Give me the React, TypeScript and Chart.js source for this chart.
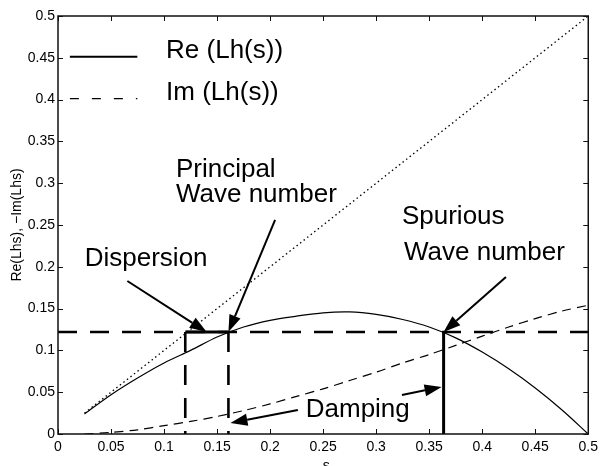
import { useEffect, useRef } from 'react';
import { Chart, registerables } from 'chart.js';

Chart.register(...registerables);

// ---- data ----
const sValues = [0.025, 0.05, 0.075, 0.1, 0.125, 0.15, 0.175, 0.2, 0.225, 0.25, 0.275, 0.3, 0.325, 0.35, 0.375, 0.4, 0.425, 0.45, 0.475, 0.5];
const reValues = [0.024, 0.047, 0.067, 0.085, 0.1, 0.116, 0.128, 0.136, 0.141, 0.145, 0.146, 0.143, 0.137, 0.128, 0.115, 0.098, 0.078, 0.055, 0.029, 0.0];
const imValues = [0.0, 0.002, 0.005, 0.01, 0.015, 0.021, 0.028, 0.036, 0.045, 0.054, 0.064, 0.074, 0.085, 0.095, 0.106, 0.117, 0.128, 0.138, 0.147, 0.154];
const diagonalS = [0.025, 0.5];
const refLevel = 0.122;
const dispersionBounds = [0.12, 0.1607];
const spuriousS = 0.3636;
const xTickLabels = ['0', '0.05', '0.1', '0.15', '0.2', '0.25', '0.3', '0.35', '0.4', '0.45', '0.5'];
const yTickLabels = ['0', '0.05', '0.1', '0.15', '0.2', '0.25', '0.3', '0.35', '0.4', '0.45', '0.5'];
const legendLabels = ['Re (Lh(s))', 'Im (Lh(s))'];
const yAxisTitle = 'Re(Lhs), −Im(Lhs)';
const xAxisTitle = 's';

// annotations (data coordinates)
const textNotes = [
  { text: 'Dispersion', s: 0.0252, y: 0.201 },
  { text: 'Principal', s: 0.1112, y: 0.3074 },
  { text: 'Wave number', s: 0.1112, y: 0.2775 },
  { text: 'Spurious', s: 0.3243, y: 0.2512 },
  { text: 'Wave number', s: 0.3262, y: 0.2081 },
  { text: 'Damping', s: 0.2336, y: 0.0203 },
];
const arrowNotes = [
  { from: [0.0654, 0.183], to: [0.1402, 0.122] },
  { from: [0.2047, 0.256], to: [0.1607, 0.122] },
  { from: [0.4224, 0.1878], to: [0.3636, 0.122] },
  { from: [0.3243, 0.0467], to: [0.3617, 0.0562] },
  { from: [0.2262, 0.0287], to: [0.1626, 0.0132] },
];

const FONT = '"Liberation Sans", Arial, Helvetica, sans-serif';

const overlay = {
  id: 'overlay',
  afterDraw(chart: any) {
    const { ctx, chartArea: a, scales } = chart;
    const xs = scales.x;
    const ys = scales.y;
    const X = (v: number) => xs.getPixelForValue(v);
    const Y = (v: number) => ys.getPixelForValue(v);
    ctx.save();
    // frame
    ctx.strokeStyle = '#111';
    ctx.lineWidth = 1.5;
    ctx.setLineDash([]);
    ctx.strokeRect(a.left, a.top, a.right - a.left, a.bottom - a.top);
    // inward ticks
    ctx.lineWidth = 1;
    ctx.beginPath();
    xs.ticks.forEach((t: any) => {
      const px = Math.round(X(t.value)) + 0.5;
      ctx.moveTo(px, a.bottom); ctx.lineTo(px, a.bottom - 5);
      ctx.moveTo(px, a.top); ctx.lineTo(px, a.top + 5);
    });
    ys.ticks.forEach((t: any) => {
      const py = Math.round(Y(t.value)) + 0.5;
      ctx.moveTo(a.left, py); ctx.lineTo(a.left + 5, py);
      ctx.moveTo(a.right, py); ctx.lineTo(a.right - 5, py);
    });
    ctx.stroke();

    // legend
    ctx.fillStyle = '#000';
    ctx.strokeStyle = '#000';
    ctx.font = `26px ${FONT}`;
    ctx.textBaseline = 'alphabetic';
    ctx.textAlign = 'left';
    const legendY = [0.45, 0.4];
    legendY.forEach((lv, i) => {
      const py = Y(lv);
      ctx.lineWidth = i === 0 ? 2 : 1.2;
      ctx.setLineDash(i === 0 ? [] : [9, 13]);
      ctx.beginPath();
      ctx.moveTo(X(0.0112), py - 1);
      ctx.lineTo(X(0.0748), py - 1);
      ctx.stroke();
      ctx.setLineDash([]);
      ctx.fillText(legendLabels[i], X(0.1019), py);
    });

    // text annotations
    textNotes.forEach((n) => ctx.fillText(n.text, X(n.s), Y(n.y)));

    // arrows
    ctx.setLineDash([]);
    arrowNotes.forEach((ar) => {
      const x1 = X(ar.from[0]), y1 = Y(ar.from[1]);
      const x2 = X(ar.to[0]), y2 = Y(ar.to[1]);
      const ang = Math.atan2(y2 - y1, x2 - x1);
      const hl = 17, hw = 6;
      const bx = x2 - hl * Math.cos(ang), by = y2 - hl * Math.sin(ang);
      ctx.lineWidth = 2;
      ctx.beginPath();
      ctx.moveTo(x1, y1);
      ctx.lineTo(bx, by);
      ctx.stroke();
      ctx.beginPath();
      ctx.moveTo(x2, y2);
      ctx.lineTo(bx + hw * Math.sin(ang), by - hw * Math.cos(ang));
      ctx.lineTo(bx - hw * Math.sin(ang), by + hw * Math.cos(ang));
      ctx.closePath();
      ctx.fill();
    });

    // axis titles
    ctx.font = `14px ${FONT}`;
    ctx.textAlign = 'center';
    ctx.textBaseline = 'middle';
    ctx.save();
    ctx.translate(17, (a.top + a.bottom) / 2);
    ctx.rotate(-Math.PI / 2);
    ctx.fillText(yAxisTitle, 0, 0);
    ctx.restore();
    ctx.font = `14px ${FONT}`;
    ctx.textBaseline = 'alphabetic';
    ctx.fillText(xAxisTitle, (a.left + a.right) / 2 + 3, 470);
    ctx.restore();
  },
};

export default function App() {
  const ref = useRef<HTMLCanvasElement | null>(null);
  useEffect(() => {
    document.body.style.margin = '0';
    const canvas = ref.current;
    if (!canvas) return;
    const pts = (ys: number[]) => sValues.map((s, i) => ({ x: s, y: ys[i] }));
    const black = '#000';
    const chart = new Chart(canvas, {
      type: 'line',
      data: {
        datasets: [
          { label: 'Re', data: pts(reValues), borderColor: black, borderWidth: 1.2, pointRadius: 0, tension: 0.3, fill: false },
          { label: 'Im', data: pts(imValues), borderColor: black, borderWidth: 1.2, borderDash: [9, 6], pointRadius: 0, tension: 0.3, fill: false },
          { label: 'diag', data: diagonalS.map((s) => ({ x: s, y: s })), borderColor: black, borderWidth: 1.3, borderDash: [1.5, 3], pointRadius: 0, fill: false },
          { label: 'ref', data: [{ x: 0, y: refLevel }, { x: 0.5, y: refLevel }], borderColor: black, borderWidth: 2.6, borderDash: [19, 13], pointRadius: 0, fill: false },
          { label: 'v1', data: [{ x: dispersionBounds[0], y: refLevel }, { x: dispersionBounds[0], y: 0 }], borderColor: black, borderWidth: 2.6, borderDash: [20, 13], pointRadius: 0, fill: false },
          { label: 'v2', data: [{ x: dispersionBounds[1], y: refLevel }, { x: dispersionBounds[1], y: 0 }], borderColor: black, borderWidth: 2.6, borderDash: [20, 13], pointRadius: 0, fill: false },
          { label: 'span', data: [{ x: dispersionBounds[0], y: refLevel }, { x: dispersionBounds[1], y: refLevel }], borderColor: black, borderWidth: 3, pointRadius: 0, fill: false },
          { label: 'spur', data: [{ x: spuriousS, y: refLevel }, { x: spuriousS, y: 0 }], borderColor: black, borderWidth: 3, pointRadius: 0, fill: false },
        ],
      },
      options: {
        animation: false,
        responsive: true,
        maintainAspectRatio: false,
        parsing: false as any,
        layout: { padding: { top: 16, right: 10, left: 0, bottom: 0 } },
        plugins: { legend: { display: false }, tooltip: { enabled: false } },
        scales: {
          x: {
            type: 'linear',
            min: 0,
            max: 0.5,
            grid: { display: false, drawTicks: false },
            border: { display: false },
            ticks: {
              stepSize: 0.05,
              padding: 5,
              color: '#000',
              font: { family: FONT, size: 14 },
              maxRotation: 0,
              autoSkip: false,
              callback: (_v: any, i: number) => xTickLabels[i],
            },
            afterFit: (scale: any) => { scale.height = 32; },
          },
          y: {
            type: 'linear',
            min: 0,
            max: 0.5,
            grid: { display: false, drawTicks: false },
            border: { display: false },
            ticks: {
              stepSize: 0.05,
              padding: 3,
              color: '#000',
              font: { family: FONT, size: 14 },
              autoSkip: false,
              callback: (_v: any, i: number) => yTickLabels[i],
            },
            afterFit: (scale: any) => { scale.width = 58; },
          },
        },
      },
      plugins: [overlay],
    } as any);
    return () => chart.destroy();
  }, []);
  return (
    <div style={{ position: 'absolute', left: 0, top: 0, width: 603, height: 466, background: '#fff' }}>
      <canvas ref={ref} />
    </div>
  );
}
